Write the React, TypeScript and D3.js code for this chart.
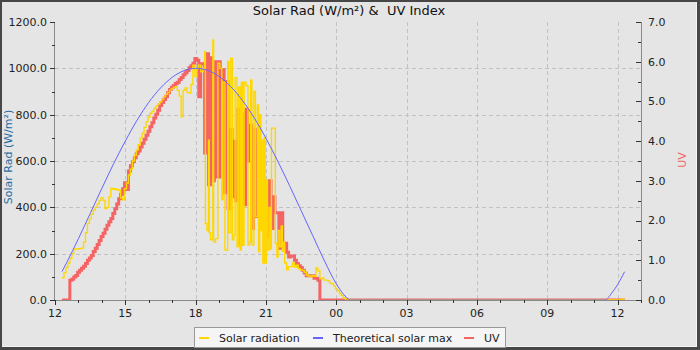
import React from "react";
import * as d3 from "d3";

// ---- data ----
const solarRadiation: [string, number][] = [
  ["12:18", 96], ["12:23", 118], ["12:28", 140], ["12:33", 160], ["12:38", 180], ["12:43", 200],
  ["12:48", 220], ["12:53", 220], ["12:58", 221], ["13:03", 222], ["13:08", 224], ["13:13", 250],
  ["13:18", 290], ["13:23", 330], ["13:28", 350], ["13:33", 370], ["13:38", 388], ["13:43", 400],
  ["13:48", 415], ["13:53", 430], ["13:58", 442], ["14:03", 430], ["14:08", 395], ["14:13", 400],
  ["14:18", 445], ["14:23", 482], ["14:28", 478], ["14:33", 480], ["14:38", 476], ["14:43", 474],
  ["14:48", 440], ["14:53", 432], ["14:58", 480], ["15:03", 505], ["15:08", 540], ["15:13", 565],
  ["15:18", 600], ["15:23", 625], ["15:28", 647], ["15:33", 670], ["15:38", 700], ["15:43", 720],
  ["15:48", 745], ["15:53", 770], ["15:58", 790], ["16:03", 806], ["16:08", 815], ["16:13", 828],
  ["16:18", 838], ["16:23", 846], ["16:28", 856], ["16:33", 866], ["16:38", 878], ["16:43", 888],
  ["16:48", 895], ["16:53", 906], ["16:58", 912], ["17:03", 918], ["17:08", 921], ["17:13", 905],
  ["17:18", 880], ["17:23", 791], ["17:28", 905], ["17:33", 915], ["17:38", 895], ["17:43", 893],
  ["17:48", 930], ["17:53", 1014], ["17:58", 964], ["18:03", 1000], ["18:08", 1014], ["18:13", 985],
  ["18:19", 1000], ["18:23", 1072], ["18:25", 330], ["18:29", 300], ["18:33", 690], ["18:35", 290],
  ["18:38", 260], ["18:44", 1122], ["18:46", 250], ["18:51", 265], ["18:57", 1022], ["19:02", 1000],
  ["19:07", 432], ["19:10", 940], ["19:15", 216], ["19:22", 1030], ["19:25", 290], ["19:30", 1044],
  ["19:34", 260], ["19:38", 280], ["19:41", 960], ["19:46", 230], ["19:50", 920], ["19:54", 216],
  ["19:57", 940], ["20:00", 237], ["20:04", 940], ["20:09", 925], ["20:14", 237], ["20:18", 250],
  ["20:21", 950], ["20:24", 237], ["20:29", 900], ["20:33", 360], ["20:38", 842], ["20:41", 208],
  ["20:44", 800], ["20:47", 300], ["20:49", 690], ["20:52", 160], ["20:55", 700], ["20:58", 160],
  ["21:01", 518], ["21:04", 216], ["21:08", 400], ["21:11", 220], ["21:14", 742], ["21:24", 245],
  ["21:28", 185], ["21:31", 300], ["21:35", 230], ["21:39", 320], ["21:42", 210], ["21:45", 250],
  ["21:48", 160], ["21:53", 130], ["21:57", 144], ["22:03", 144], ["22:08", 160], ["22:13", 142],
  ["22:18", 150], ["22:23", 135], ["22:28", 130], ["22:33", 128], ["22:38", 120], ["22:43", 108],
  ["22:48", 104], ["22:53", 100], ["22:58", 106], ["23:03", 102], ["23:08", 138], ["23:13", 125],
  ["23:18", 91], ["23:23", 95], ["23:28", 86], ["23:33", 86], ["23:38", 82], ["23:43", 73],
  ["23:48", 70], ["23:53", 60], ["23:58", 48], ["00:03", 40], ["00:08", 28], ["00:13", 20],
  ["00:18", 10], ["00:23", 5], ["00:28", 5], ["00:33", 0], ["12:08", 0], ["12:13", 5], ["12:18", 5],
];

const uvIndex: [string, number][] = [
  ["12:18", 0], ["12:23", 0], ["12:28", 0], ["12:33", 0], ["12:38", 0.5], ["12:43", 0.52],
  ["12:48", 0.58], ["12:53", 0.62], ["12:58", 0.7], ["13:03", 0.75], ["13:08", 0.8], ["13:13", 0.85],
  ["13:18", 0.92], ["13:23", 1.0], ["13:28", 1.06], ["13:33", 1.12], ["13:38", 1.22], ["13:43", 1.3],
  ["13:48", 1.4], ["13:53", 1.5], ["13:58", 1.6], ["14:03", 1.68], ["14:08", 1.78], ["14:13", 1.88],
  ["14:18", 1.97], ["14:23", 2.05], ["14:28", 2.18], ["14:33", 2.3], ["14:38", 2.42], ["14:43", 2.55],
  ["14:48", 2.66], ["14:53", 2.8], ["14:58", 2.95], ["15:03", 2.78], ["15:08", 3.25], ["15:13", 3.38],
  ["15:18", 3.48], ["15:23", 3.58], ["15:28", 3.68], ["15:33", 3.75], ["15:38", 3.85], ["15:43", 3.95],
  ["15:48", 4.05], ["15:53", 4.15], ["15:58", 4.25], ["16:03", 4.36], ["16:08", 4.46], ["16:13", 4.58],
  ["16:18", 4.68], ["16:23", 4.78], ["16:28", 4.9], ["16:33", 4.97], ["16:38", 5.05], ["16:43", 5.12],
  ["16:48", 5.22], ["16:53", 5.3], ["16:58", 5.36], ["17:03", 5.4], ["17:08", 5.45], ["17:13", 5.48],
  ["17:18", 5.55], ["17:23", 5.6], ["17:28", 5.67], ["17:33", 5.72], ["17:38", 5.78], ["17:43", 5.85],
  ["17:48", 5.9], ["17:53", 5.96], ["17:58", 6.08], ["18:03", 6.04], ["18:08", 5.12], ["18:13", 5.95],
  ["18:18", 5.95], ["18:23", 3.7], ["18:28", 6.2], ["18:33", 2.9], ["18:38", 6.1], ["18:43", 3.0],
  ["18:48", 6.0], ["18:53", 3.1], ["18:58", 6.0], ["19:03", 3.1], ["19:08", 5.8], ["19:13", 2.7],
  ["19:18", 5.5], ["19:23", 2.3], ["19:28", 4.3], ["19:33", 2.6], ["19:38", 4.0], ["19:43", 2.5],
  ["19:48", 4.8], ["19:53", 1.4], ["19:58", 4.7], ["20:03", 2.4], ["20:08", 4.8], ["20:13", 3.5],
  ["20:18", 4.4], ["20:23", 1.8], ["20:28", 4.3], ["20:33", 2.1], ["20:38", 3.9], ["20:43", 3.1],
  ["20:48", 3.85], ["20:53", 1.8], ["20:58", 2.95], ["21:03", 1.6], ["21:08", 3.0], ["21:13", 1.8],
  ["21:18", 2.6], ["21:23", 2.2], ["21:28", 2.2], ["21:33", 1.3], ["21:38", 2.2], ["21:43", 1.4],
  ["21:48", 1.43], ["21:53", 1.2], ["21:58", 1.08], ["22:03", 1.11], ["22:08", 1.11], ["22:13", 1.0],
  ["22:18", 0.92], ["22:23", 0.86], ["22:28", 0.82], ["22:33", 0.75], ["22:38", 0.68], ["22:43", 0.61],
  ["22:48", 0.61], ["22:53", 0.61], ["22:58", 0.61], ["23:03", 0.55], ["23:08", 0.55], ["23:13", 0.5],
  ["23:18", 0], ["12:18", 0],
];

const theoreticalMax: [string, number][] = [
  ["12:18", 123], ["12:30", 162], ["13:00", 265], ["13:30", 373], ["14:00", 482], ["14:30", 588],
  ["15:00", 686], ["15:30", 776], ["16:00", 853], ["16:30", 915], ["17:00", 961], ["17:30", 990],
  ["18:00", 1000], ["18:30", 992], ["19:00", 965], ["19:30", 921], ["20:00", 861], ["20:30", 786],
  ["21:00", 698], ["21:30", 600], ["22:00", 495], ["22:30", 386], ["23:00", 277], ["23:30", 168],
  ["00:00", 70], ["00:30", 6], ["00:36", 0], ["11:28", 0], ["11:45", 30], ["12:00", 66], ["12:18", 122],
];

const leftTicks = [0, 200, 400, 600, 800, 1000, 1200];
const rightTicks = [0, 1, 2, 3, 4, 5, 6, 7];
const legendLabels = ["Solar radiation", "Theoretical solar max", "UV"];
const titleText = "Solar Rad (W/m²) &  UV Index";
const leftAxisTitle = "Solar Rad (W/m²)";
const rightAxisTitle = "UV";

type Pt = { t: Date; v: number };
function toSeries(rows: [string, number][]): Pt[] {
  let day = 0;
  let prev = -1;
  return rows.map(([hm, v]) => {
    const [h, m] = hm.split(":").map(Number);
    const mins = h * 60 + m;
    if (mins < prev) day++;
    prev = mins;
    return { t: new Date(2024, 5, 1 + day, h, m), v };
  });
}

const FONT = "DejaVu Sans, Verdana, sans-serif";
const COL_SOLAR = "#ffd700";
const COL_MAX = "#6464ff";
const COL_UV = "#f46464";

export default function App() {
  const W = 700, H = 350;
  const L = 55, R = 641, T = 22, B = 300;
  const x = d3.scaleTime()
    .domain([new Date(2024, 5, 1, 12, 0), new Date(2024, 5, 2, 13, 0)])
    .range([L, R]);
  const yL = d3.scaleLinear().domain([0, 1200]).range([B, T]);
  const yR = d3.scaleLinear().domain([0, 7]).range([B, T]);

  const solar = toSeries(solarRadiation);
  const uv = toSeries(uvIndex);
  const tmax = toSeries(theoreticalMax);

  const lineL = d3.line<Pt>().x((d) => x(d.t)).y((d) => yL(d.v)).curve(d3.curveStepAfter);
  const lineMax = d3.line<Pt>().x((d) => x(d.t)).y((d) => yL(d.v)).curve(d3.curveMonotoneX);
  const lineUV = d3.line<Pt>().x((d) => x(d.t)).y((d) => yR(d.v)).curve(d3.curveStepAfter);

  const majorX = x.ticks(d3.timeHour.every(3)!);
  const minorX = x.ticks(d3.timeHour.every(1)!);
  const fmtH = d3.timeFormat("%H");
  const minorL = d3.range(0, 1201, 100);
  const minorR = d3.range(0, 7.01, 0.5);

  const axisCol = "#8a8a8a";
  const gridCol = "#c2c2c2";
  const textCol = "#222";

  return (
    <svg width={W} height={H} style={{ position: "absolute", left: 0, top: 0 }} fontFamily={FONT}>
      <defs>
        <clipPath id="plot">
          <rect x={L} y={T - 30} width={R - L} height={B - T + 30} />
        </clipPath>
      </defs>
      <rect x={0} y={0} width={W} height={H} fill="#474747" />
      <rect x={2} y={2} width={W - 5} height={H - 5} fill="#e5e5e5" />
      <line x1={2} x2={W - 3} y1={H - 3.5} y2={H - 3.5} stroke="#f4f4f4" />
      <line x1={W - 3.5} x2={W - 3.5} y1={2} y2={H - 3} stroke="#f4f4f4" />

      {/* title */}
      <text x={349} y={15} textAnchor="middle" fontSize={13} fill="#111" style={{ whiteSpace: "pre" }}>
        {titleText}
      </text>

      {/* grid */}
      {leftTicks.filter((v) => v > 0 && v < 1200).map((v) => (
        <line key={"gh" + v} x1={L} x2={R} y1={Math.round(yL(v)) + 0.5} y2={Math.round(yL(v)) + 0.5}
          stroke={gridCol} strokeDasharray="4,3" />
      ))}
      {majorX.filter((d) => x(d) > L + 1).map((d, i) => (
        <line key={"gv" + i} x1={Math.round(x(d)) + 0.5} x2={Math.round(x(d)) + 0.5} y1={T} y2={B}
          stroke={gridCol} strokeDasharray="4,3" />
      ))}

      {/* series */}
      <g clipPath="url(#plot)" fill="none">
        <path d={lineUV(uv) || ""} stroke={COL_UV} strokeWidth={3} />
        <path d={lineL(solar) || ""} stroke={COL_SOLAR} strokeWidth={1.4} />
        <path d={lineMax(tmax) || ""} stroke={COL_MAX} strokeWidth={1} />
      </g>

      {/* axes lines */}
      <line x1={L - 0.5} x2={L - 0.5} y1={T} y2={B} stroke={axisCol} />
      <line x1={R + 0.5} x2={R + 0.5} y1={T} y2={B} stroke={axisCol} />
      <line x1={L} x2={R} y1={B + 0.5} y2={B + 0.5} stroke={axisCol} />

      {/* left axis */}
      {minorL.map((v) => {
        const major = v % 200 === 0;
        const yy = Math.round(yL(v)) + 0.5;
        return <line key={"lt" + v} x1={L - (major ? 5 : 3)} x2={L} y1={yy} y2={yy} stroke="#333" />;
      })}
      {leftTicks.map((v) => (
        <text key={"ll" + v} x={L - 8} y={yL(v)} dy="0.35em" textAnchor="end" fontSize={11} fill={textCol}>
          {d3.format(".1f")(v)}
        </text>
      ))}

      {/* right axis */}
      {minorR.map((v) => {
        const major = Math.abs(v - Math.round(v)) < 1e-6;
        const yy = Math.round(yR(v)) + 0.5;
        return <line key={"rt" + v} x1={R - (major ? 5 : 3)} x2={R} y1={yy} y2={yy} stroke="#333" />;
      })}
      {rightTicks.map((v) => (
        <text key={"rl" + v} x={R + 7} y={yR(v)} dy="0.35em" textAnchor="start" fontSize={11} fill={textCol}>
          {d3.format(".1f")(v)}
        </text>
      ))}

      {/* x axis */}
      {minorX.map((d, i) => {
        const xx = Math.round(x(d)) + 0.5;
        const major = d.getHours() % 3 === 0;
        return <line key={"xt" + i} x1={xx} x2={xx} y1={B} y2={B + (major ? 5 : 3)} stroke="#333" />;
      })}
      {majorX.map((d, i) => (
        <text key={"xl" + i} x={x(d)} y={317} textAnchor="middle" fontSize={11} fill={textCol}>
          {fmtH(d)}
        </text>
      ))}

      {/* axis titles */}
      <text transform="translate(12,157) rotate(-90)" textAnchor="middle" fontSize={11} fill="#1f6ea3">
        {leftAxisTitle}
      </text>
      <text transform="translate(686,160) rotate(-90)" textAnchor="middle" fontSize={11} fill={COL_UV}>
        {rightAxisTitle}
      </text>

      {/* legend */}
      <rect x={194.5} y={327.5} width={311} height={20} fill="#f5f5f5" stroke="#999" />
      {[COL_SOLAR, COL_MAX, COL_UV].map((c, i) => {
        const sx = [199, 313, 464][i];
        return (
          <g key={"lg" + i}>
            <line x1={sx} x2={sx + 10} y1={338} y2={338} stroke={c} strokeWidth={2} />
            <text x={sx + 20} y={341.5} fontSize={11} fill={textCol}>{legendLabels[i]}</text>
          </g>
        );
      })}
    </svg>
  );
}
